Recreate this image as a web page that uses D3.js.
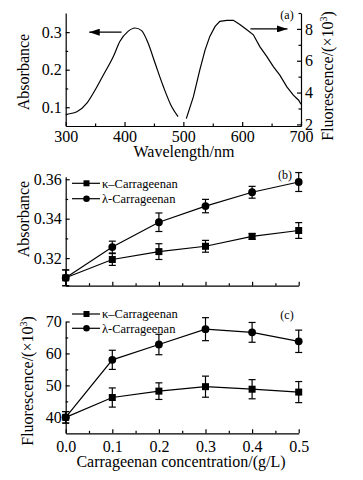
<!DOCTYPE html>
<html lang="en">
<head>
<meta charset="UTF-8">
<title>carrageenan</title>
<script src="https://cdn.jsdelivr.net/npm/d3@7"></script>
<style>
  body { margin: 0; background: #fff; }
  text { font-family: "Liberation Serif", "Times New Roman", serif; fill: #000; }
  .domain, .tick line { stroke: #000; stroke-width: 1.2; }
  .tick text { font-size: 16px; }
</style>
</head>
<body>
<script>
// panel (a) spectra
let absWave = [300, 302, 319, 336, 350, 364, 381, 392, 406, 418, 429, 440, 452, 466, 480, 491];
let absVal  = [0.080, 0.081, 0.088, 0.111, 0.146, 0.186, 0.235, 0.275, 0.302, 0.311, 0.304, 0.271, 0.217, 0.155, 0.102, 0.075];
let fluWave = [505, 517, 528, 537, 545, 554, 562, 574, 585, 596, 608, 619, 630, 642, 653, 664, 676, 687, 696, 700];
let fluVal  = [2.36, 3.73, 5.42, 6.68, 7.53, 8.16, 8.47, 8.54, 8.54, 8.27, 7.95, 7.63, 6.89, 6.26, 5.63, 5.10, 4.36, 3.84, 3.52, 3.27];

// panels (b) and (c)
let conc = [0, 0.1, 0.2, 0.3, 0.4, 0.5];
let kappaAbs    = [0.310, 0.3193, 0.3233, 0.326, 0.331, 0.334];
let kappaAbsErr = [0.004, 0.003, 0.004, 0.003, 0.0015, 0.004];
let lambdaAbs    = [0.310, 0.3256, 0.3382, 0.3464, 0.3534, 0.3586];
let lambdaAbsErr = [0.004, 0.003, 0.0047, 0.0034, 0.003, 0.0048];
let kappaFlu    = [40, 46.2, 48.2, 49.6, 48.8, 47.9];
let kappaFluErr = [1.8, 3.0, 2.6, 3.3, 3.0, 3.3];
let lambdaFlu    = [40, 58.0, 62.8, 67.6, 66.6, 63.8];
let lambdaFluErr = [1.8, 3.0, 3.2, 3.6, 3.1, 3.5];

let seriesNames = ['\u03ba\u2013Carrageenan', '\u03bb-Carrageenan'];

let width = 363;
let height = 480;
let font = '"Liberation Serif", "Times New Roman", serif';

let svg = d3.select('body')
  .append('svg')
  .attr('width', width)
  .attr('height', height)
  .attr('font-family', font);

let defs = svg.append('defs');
defs.append('marker')
  .attr('id', 'arrow')
  .attr('viewBox', '0 0 12 8')
  .attr('refX', 12)
  .attr('refY', 4)
  .attr('markerWidth', 12)
  .attr('markerHeight', 7)
  .attr('markerUnits', 'userSpaceOnUse')
  .attr('orient', 'auto')
  .append('path')
  .attr('d', 'M0,0 L12,4 L0,8 Z')
  .attr('fill', '#000');

function axisGroup(axis, tx, ty) {
  return svg.append('g')
    .attr('transform', 'translate(' + tx + ',' + ty + ')')
    .call(axis)
    .attr('font-family', font)
    .attr('font-size', 16);
}

function minorAxis(axisFn, scale, values, tx, ty, size) {
  let g = svg.append('g')
    .attr('transform', 'translate(' + tx + ',' + ty + ')')
    .call(axisFn(scale).tickValues(values).tickSize(size).tickFormat(''));
  g.select('.domain').remove();
}

function rotatedLabel(x, y, angle, main, sup) {
  let t = svg.append('text')
    .attr('transform', 'translate(' + x + ',' + y + ') rotate(' + angle + ')')
    .attr('text-anchor', 'middle')
    .attr('font-size', 16)
    .text(main);
  if (sup) {
    t.append('tspan').attr('dy', -6).attr('font-size', 10).text(sup);
    t.append('tspan').attr('dy', 6).text(')');
  }
}

// ---------- panel (a) ----------
let xA = d3.scaleLinear().domain([300, 700]).range([65.7, 301]);
let yA = d3.scaleLinear().domain([0.05, 0.351]).range([126, 13]);
let yF = d3.scaleLinear().domain([1.9, 9.0]).range([126, 13]);

axisGroup(d3.axisBottom(xA).tickValues([300, 400, 500, 600, 700]).tickSize(-4).tickSizeOuter(0).tickPadding(5), 0, 126);
minorAxis(d3.axisBottom, xA, [350, 450, 550, 650], 0, 126, -2.5);
axisGroup(d3.axisLeft(yA).tickValues([0.1, 0.2, 0.3]).tickFormat(d3.format('.1f')).tickSize(-4).tickSizeOuter(0).tickPadding(4), 65.7, 0);
minorAxis(d3.axisLeft, yA, [0.15, 0.25], 65.7, 0, -2.5);
axisGroup(d3.axisRight(yF).tickValues([2, 4, 6, 8]).tickSize(-4).tickSizeOuter(0).tickPadding(4), 301, 0);
minorAxis(d3.axisRight, yF, [3, 5, 7, 9], 301, 0, -2.5);

let lineA = d3.line().x((d, i) => xA(absWave[i])).y(d => yA(d)).curve(d3.curveMonotoneX);
let lineF = d3.line().x((d, i) => xA(fluWave[i])).y(d => yF(d)).curve(d3.curveLinear);

svg.append('path').datum(absVal).attr('d', lineA)
  .attr('fill', 'none').attr('stroke', '#000').attr('stroke-width', 1.2);
svg.append('path').datum(fluVal).attr('d', lineF)
  .attr('fill', 'none').attr('stroke', '#000').attr('stroke-width', 1.2);

// arrows pointing to the axis each curve belongs to
svg.append('line')
  .attr('x1', xA(395)).attr('y1', yA(0.3))
  .attr('x2', xA(340)).attr('y2', yA(0.3))
  .attr('stroke', '#000').attr('stroke-width', 1.2)
  .attr('marker-end', 'url(#arrow)');
svg.append('line')
  .attr('x1', xA(614)).attr('y1', yF(8))
  .attr('x2', xA(677)).attr('y2', yF(8))
  .attr('stroke', '#000').attr('stroke-width', 1.2)
  .attr('marker-end', 'url(#arrow)');

rotatedLabel(29, 72, -90, 'Absorbance');
rotatedLabel(333, 76, -90, 'Fluorescence/(\u00d710', '3');
svg.append('text').attr('x', 184).attr('y', 157).attr('text-anchor', 'middle')
  .attr('font-size', 16).text('Wavelength/nm');
svg.append('text').attr('x', 287).attr('y', 19).attr('text-anchor', 'middle')
  .attr('font-size', 12).text('(a)');

// ---------- panels (b) and (c) ----------
let xB = d3.scaleLinear().domain([0, 0.5]).range([65.7, 298.7]);
let yB = d3.scaleLinear().domain([0.306, 0.3613]).range([285.7, 176.7]);
let yC = d3.scaleLinear().domain([35, 70]).range([433.3, 321.5]);

function drawSeries(y, vals, errs, shape) {
  let line = d3.line().x((d, i) => xB(conc[i])).y(d => y(d));
  svg.append('path').datum(vals).attr('d', line)
    .attr('fill', 'none').attr('stroke', '#000').attr('stroke-width', 1.2);
  let g = svg.append('g').attr('stroke', '#000').attr('stroke-width', 1.2);
  vals.forEach((v, i) => {
    let x = xB(conc[i]);
    g.append('line').attr('x1', x).attr('x2', x).attr('y1', y(v - errs[i])).attr('y2', y(v + errs[i]));
    g.append('line').attr('x1', x - 3.5).attr('x2', x + 3.5).attr('y1', y(v - errs[i])).attr('y2', y(v - errs[i]));
    g.append('line').attr('x1', x - 3.5).attr('x2', x + 3.5).attr('y1', y(v + errs[i])).attr('y2', y(v + errs[i]));
  });
  vals.forEach((v, i) => drawMarker(xB(conc[i]), y(v), shape));
}

function drawMarker(x, y, shape) {
  if (shape === 'square') {
    svg.append('rect').attr('x', x - 3.5).attr('y', y - 3.5).attr('width', 7).attr('height', 7).attr('fill', '#000');
  } else {
    svg.append('circle').attr('cx', x).attr('cy', y).attr('r', 3.9).attr('fill', '#000');
  }
}

function legend(x, ys) {
  ['square', 'circle'].forEach((shape, i) => {
    svg.append('line').attr('x1', x).attr('x2', x + 28).attr('y1', ys[i]).attr('y2', ys[i])
      .attr('stroke', '#000').attr('stroke-width', 1.2);
    let ms = shape === 'square' ? 'square' : 'circle';
    if (ms === 'square') {
      svg.append('rect').attr('x', x + 11.5).attr('y', ys[i] - 3).attr('width', 6).attr('height', 6).attr('fill', '#000');
    } else {
      svg.append('circle').attr('cx', x + 14.5).attr('cy', ys[i]).attr('r', 3.3).attr('fill', '#000');
    }
    svg.append('text').attr('x', x + 30).attr('y', ys[i] + 4.3)
      .attr('font-size', 12.5).text(seriesNames[i]);
  });
}

// panel (b)
axisGroup(d3.axisBottom(xB).tickValues([0, 0.1, 0.2, 0.3, 0.4, 0.5]).tickFormat('').tickSize(-4).tickSizeOuter(0), 0, 285.7);
minorAxis(d3.axisBottom, xB, [0.05, 0.15, 0.25, 0.35, 0.45], 0, 285.7, -2.5);
axisGroup(d3.axisLeft(yB).tickValues([0.32, 0.34, 0.36]).tickFormat(d3.format('.2f')).tickSize(-4).tickSizeOuter(0).tickPadding(4), 65.7, 0);
minorAxis(d3.axisLeft, yB, [0.31, 0.33, 0.35], 65.7, 0, -2.5);

drawSeries(yB, kappaAbs, kappaAbsErr, 'square');
drawSeries(yB, lambdaAbs, lambdaAbsErr, 'circle');
legend(72, [183.3, 198.7]);
rotatedLabel(29, 219, -90, 'Absorbance');
svg.append('text').attr('x', 285).attr('y', 179).attr('text-anchor', 'middle')
  .attr('font-size', 12).text('(b)');

// panel (c)
axisGroup(d3.axisBottom(xB).tickValues([0, 0.1, 0.2, 0.3, 0.4, 0.5]).tickFormat(d3.format('.1f')).tickSize(-4).tickSizeOuter(0).tickPadding(7), 0, 433.3);
minorAxis(d3.axisBottom, xB, [0.05, 0.15, 0.25, 0.35, 0.45], 0, 433.3, -2.5);
axisGroup(d3.axisLeft(yC).tickValues([40, 50, 60, 70]).tickSize(-4).tickSizeOuter(0).tickPadding(4), 65.7, 0);
minorAxis(d3.axisLeft, yC, [45, 55, 65], 65.7, 0, -2.5);

drawSeries(yC, kappaFlu, kappaFluErr, 'square');
drawSeries(yC, lambdaFlu, lambdaFluErr, 'circle');
legend(72, [314, 328.3]);
rotatedLabel(33, 381, -90, 'Fluorescence/(\u00d710', '3');
svg.append('text').attr('x', 287).attr('y', 319).attr('text-anchor', 'middle')
  .attr('font-size', 12).text('(c)');
svg.append('text').attr('x', 181).attr('y', 467).attr('text-anchor', 'middle')
  .attr('font-size', 16).text('Carrageenan concentration/(g/L)');
</script>
</body>
</html>
